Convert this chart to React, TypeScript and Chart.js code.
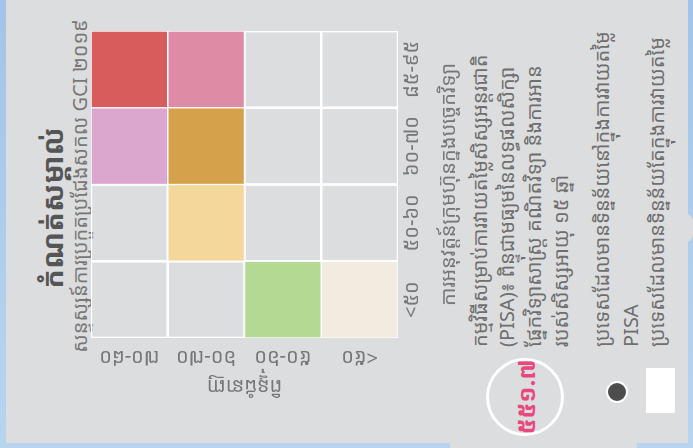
import React, { useEffect, useRef } from "react";
import { Chart, registerables } from "chart.js";

Chart.register(...registerables);

// ---------------- data ----------------
const titleText = "កំណត់សម្គាល់";
const subtitleText = "សន្ទស្សន៍ការប្រកួតប្រជែងសកល GCI ២០១៩";
const xCategories = ["<៥០", "៥០-៦០", "៦០-៧០", "៨៥-៩៥"];
const yCategories = ["៧០-៨០", "៦០-៧០", "៥០-៦០", "<៥០"]; // top to bottom
const xAxisTitle = "ការអនុវត្តន៍ក្រុមហ៊ុនក្នុងបច្ចេកវិទ្យា";
const yAxisTitle = "ពិន្ទុជំនាញ";
// colour group of each cell, rows top to bottom, columns left to right (0 = empty)
const row1Groups = [0, 0, 3, 1];
const row2Groups = [0, 5, 4, 2];
const row3Groups = [6, 0, 0, 0];
const row4Groups = [7, 0, 0, 0];
const pisaAverage = "៥៥១.៧";
const noteLines = [
  "កម្មវិធីសម្រាប់ការវាយតម្លៃសិស្សអន្តរជាតិ",
  "(PISA)៖ ពិន្ទុជាមធ្យមនៃលទ្ធផលសិក្សា",
  "ផ្នែកវិទ្យាសាស្ត្រ គណិតវិទ្យា និងការអាន",
  "របស់សិស្សអាយុ ១៥ ឆ្នាំ",
];
const legendPisaLines = ["ប្រទេសដែលមានទិន្នន័យនៅក្នុងការវាយតម្លៃ", "PISA"];
const legendOtherText = "ប្រទេសដែលមានទិន្នន័យតែក្នុងការវាយតម្លៃ";

// ---------------- style ----------------
const FONT = "'Noto Sans Khmer', 'Khmer OS', 'Khmer OS System', 'Noto Sans', sans-serif";
const CARD = "#dcdddf";
const TEXT = "#777777";
const BODY = "#6e6e6e";
const GROUP_COLORS = [
  "rgba(0,0,0,0)",
  "#d95c5c",
  "#de8ca6",
  "#dca7cf",
  "#d5a24b",
  "#f4d79b",
  "#b3d992",
  "#f2ebdf",
];

const rows = [row1Groups, row2Groups, row3Groups, row4Groups];

function HeatChart() {
  const ref = useRef<HTMLCanvasElement | null>(null);
  useEffect(() => {
    const canvas = ref.current;
    if (!canvas) return;
    const tickSize = 20;
    const mctx = document.createElement("canvas").getContext("2d")!;
    mctx.font = `${tickSize}px ${FONT}`;
    const widest = Math.max(...yCategories.map((s) => mctx.measureText(s).width));
    const yTickPad = 10.4 - widest / 2;

    const datasets = rows
      .map((row, r) => ({
        label: yCategories[r],
        data: row.map(() => 1),
        backgroundColor: row.map((g) => GROUP_COLORS[g]),
        borderColor: "#ffffff",
        borderWidth: 1,
        borderSkipped: false as const,
        barPercentage: 1,
        categoryPercentage: 1,
        stack: "grid",
        yAxisID: "y",
        xAxisID: "x",
      }))
      .reverse();

    const chart = new Chart(canvas, {
      type: "bar",
      data: { labels: xCategories, datasets },
      options: {
        responsive: false,
        animation: false,
        devicePixelRatio: 1,
        events: [],
        layout: { padding: { top: 6, right: 23, left: 0, bottom: 0 } },
        plugins: { legend: { display: false }, tooltip: { enabled: false } },
        scales: {
          x: {
            type: "category",
            position: "bottom",
            stacked: true,
            grid: { display: false },
            border: { display: false },
            ticks: {
              color: TEXT,
              font: { family: FONT, size: tickSize },
              padding: -6,
              maxRotation: 0,
              minRotation: 0,
              autoSkip: false,
            },
            title: {
              display: true,
              text: xAxisTitle,
              color: TEXT,
              font: { family: FONT, size: 20 },
              padding: { top: 0, bottom: -1 },
            },
            afterFit: (s: any) => {
              s.height = 62;
            },
          },
          y: { type: "linear", stacked: true, min: 0, max: 4, display: false },
          yc: {
            type: "category",
            labels: yCategories,
            position: "left",
            offset: true,
            grid: { display: false },
            border: { display: false },
            ticks: {
              color: TEXT,
              font: { family: FONT, size: tickSize },
              minRotation: 90,
              maxRotation: 90,
              crossAlign: "center",
              padding: yTickPad,
              autoSkip: false,
            },
            title: {
              display: true,
              text: yAxisTitle,
              color: TEXT,
              font: { family: FONT, size: 20 },
              padding: { top: 10, bottom: 0 },
            },
            afterFit: (s: any) => {
              s.width = 70;
            },
          },
        },
      } as any,
    });
    return () => chart.destroy();
  }, []);
  return (
    <canvas
      ref={ref}
      width={400}
      height={375}
      style={{ position: "absolute", left: 40, top: 85, width: 400, height: 375 }}
    />
  );
}

export default function App() {
  const abs = (o: React.CSSProperties): React.CSSProperties => ({ position: "absolute", ...o });
  return (
    <div
      style={{
        position: "fixed",
        left: 0,
        top: 0,
        width: 693,
        height: 448,
        overflow: "hidden",
        background: "linear-gradient(180deg, #a2c4ea 0%, #b9d4ef 100%)",
        fontFamily: FONT,
      }}
    >
      <div
        style={abs({
          left: 0,
          top: 0,
          width: 448,
          height: 693,
          transformOrigin: "0 0",
          transform: "translate(0px, 448px) rotate(-90deg)",
        })}
      >
        <div style={abs({ left: 5, top: 6, width: 460, height: 682, background: CARD })} />
        <div style={abs({ left: 0, top: 450, width: 8, height: 187, background: CARD })} />
        <div style={abs({ left: 205, top: 684, width: 30, height: 9, background: CARD, borderRadius: "0 0 12px 12px" })} />

        <div
          style={abs({
            left: 60,
            width: 360,
            top: 32,
            height: 40,
            lineHeight: "40px",
            textAlign: "center",
            fontSize: 29,
            fontWeight: 700,
            color: "#555555",
            whiteSpace: "nowrap",
          })}
        >
          {titleText}
        </div>
        <div
          style={abs({
            left: 32,
            width: 460,
            top: 66,
            height: 28,
            lineHeight: "28px",
            textAlign: "center",
            fontSize: 20,
            color: TEXT,
            whiteSpace: "nowrap",
          })}
        >
          {subtitleText}
        </div>

        <HeatChart />

        <div
          style={abs({
            left: 101,
            top: 466,
            fontSize: 20,
            lineHeight: "27px",
            color: BODY,
            whiteSpace: "nowrap",
          })}
        >
          {noteLines.map((l, i) => (
            <div key={i}>{l}</div>
          ))}
        </div>

        <div
          style={abs({
            left: 12,
            top: 486,
            width: 78,
            height: 78,
            boxSizing: "border-box",
            border: "3px solid #ffffff",
            borderRadius: "50%",
            display: "flex",
            alignItems: "center",
            justifyContent: "center",
            color: "#e8487c",
            fontWeight: 700,
            fontSize: 24,
            whiteSpace: "nowrap",
          })}
        >
          {pisaAverage}
        </div>

        <div
          style={abs({
            left: 45,
            top: 606,
            width: 22,
            height: 22,
            boxSizing: "border-box",
            borderRadius: "50%",
            background: "#4d4d4d",
            border: "2px solid #ffffff",
          })}
        />
        <div
          style={abs({
            left: 101,
            top: 587,
            fontSize: 20,
            lineHeight: "29px",
            color: BODY,
            whiteSpace: "nowrap",
          })}
        >
          {legendPisaLines.map((l, i) => (
            <div key={i}>{l}</div>
          ))}
        </div>
        <div style={abs({ left: 35, top: 646, width: 45, height: 29, background: "#ffffff" })} />
        <div
          style={abs({
            left: 101,
            top: 643,
            fontSize: 20,
            lineHeight: "28px",
            color: BODY,
            whiteSpace: "nowrap",
          })}
        >
          {legendOtherText}
        </div>
      </div>
    </div>
  );
}
